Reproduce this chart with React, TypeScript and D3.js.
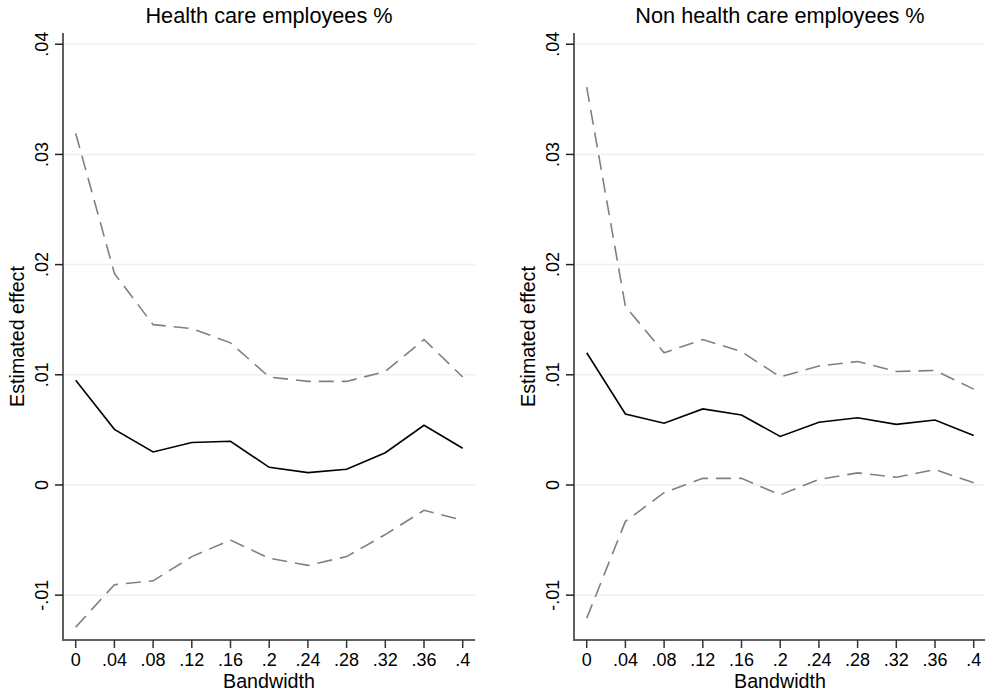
import React from "react";
import * as d3 from "d3";

const bandwidths = [0, 0.04, 0.08, 0.12, 0.16, 0.2, 0.24, 0.28, 0.32, 0.36, 0.4];
const xTickLabels = ["0", ".04", ".08", ".12", ".16", ".2", ".24", ".28", ".32", ".36", ".4"];
const yTicks = [-0.01, 0, 0.01, 0.02, 0.03, 0.04];
const yTickLabels = ["-.01", "0", ".01", ".02", ".03", ".04"];

const hcEstimate = [0.0095, 0.00505, 0.0030, 0.00385, 0.00397, 0.0016, 0.00112, 0.00142, 0.00293, 0.00542, 0.00333];
const hcUpper = [0.0319, 0.0192, 0.01455, 0.0142, 0.0129, 0.0098, 0.0094, 0.0094, 0.0103, 0.0132, 0.0098];
const hcLower = [-0.0129, -0.00905, -0.0087, -0.0065, -0.0050, -0.00665, -0.0073, -0.0065, -0.0045, -0.0023, -0.0032];

const nhcEstimate = [0.0120, 0.00644, 0.0056, 0.0069, 0.00635, 0.0044, 0.0057, 0.0061, 0.0055, 0.0059, 0.0045];
const nhcUpper = [0.0361, 0.0162, 0.0120, 0.0132, 0.0121, 0.0098, 0.0108, 0.0112, 0.0103, 0.0104, 0.0087];
const nhcLower = [-0.0121, -0.0033, -0.0007, 0.0006, 0.0006, -0.0009, 0.0005, 0.0011, 0.0007, 0.0014, 0.0002];

const panels = [
  { title: "Health care employees %", est: hcEstimate, up: hcUpper, lo: hcLower, left: 63 },
  { title: "Non health care employees %", est: nhcEstimate, up: nhcUpper, lo: nhcLower, left: 574 },
];

const W = 985;
const H = 693;
const plotW = 412;
const top = 33;
const bottom = 640;
const font = "Liberation Sans, Arial, Helvetica, sans-serif";

function Panel({ p }: { p: (typeof panels)[number] }) {
  const x = d3.scaleLinear().domain([-0.01313, 0.4127]).range([p.left, p.left + plotW]);
  const y = d3.scaleLinear().domain([-0.01407, 0.04102]).range([bottom, top]);
  const line = d3
    .line<number>()
    .x((_, i) => x(bandwidths[i]))
    .y((d) => y(d));
  const cx = p.left + plotW / 2;
  return (
    <g>
      {yTicks.map((t) => (
        <line key={"g" + t} x1={p.left} x2={p.left + plotW} y1={y(t)} y2={y(t)} stroke="#eaf2f3" strokeWidth={1.5} />
      ))}
      <path d={line(p.up) || ""} fill="none" stroke="#808080" strokeWidth={1.6} strokeDasharray="15 8" />
      <path d={line(p.lo) || ""} fill="none" stroke="#808080" strokeWidth={1.6} strokeDasharray="15 8" />
      <path d={line(p.est) || ""} fill="none" stroke="#000" strokeWidth={1.6} />
      <line x1={p.left} x2={p.left} y1={top} y2={bottom + 1} stroke="#5f5f5f" strokeWidth={2} />
      <line x1={p.left - 1} x2={p.left + plotW} y1={bottom} y2={bottom} stroke="#5f5f5f" strokeWidth={2} />
      {yTicks.map((t, i) => (
        <g key={"yt" + t}>
          <line x1={p.left - 8} x2={p.left} y1={y(t)} y2={y(t)} stroke="#222" strokeWidth={1.5} />
          <text
            transform={`translate(${p.left - 15},${y(t)}) rotate(-90)`}
            textAnchor="middle"
            fontSize={18}
            fontFamily={font}
            fill="#000"
          >
            {yTickLabels[i]}
          </text>
        </g>
      ))}
      {bandwidths.map((b, i) => (
        <g key={"xt" + b}>
          <line x1={x(b)} x2={x(b)} y1={bottom} y2={bottom + 8} stroke="#333" strokeWidth={1.5} />
          <text x={x(b)} y={666} textAnchor="middle" fontSize={18} fontFamily={font} fill="#000">
            {xTickLabels[i]}
          </text>
        </g>
      ))}
      <text x={cx} y={688} textAnchor="middle" fontSize={19.7} fontFamily={font} fill="#000">
        Bandwidth
      </text>
      <text
        transform={`translate(${p.left - 39},${(top + bottom) / 2}) rotate(-90)`}
        textAnchor="middle"
        fontSize={19.7}
        fontFamily={font}
        fill="#000"
      >
        Estimated effect
      </text>
      <text x={cx} y={23} textAnchor="middle" fontSize={21.7} fontFamily={font} fill="#000">
        {p.title}
      </text>
    </g>
  );
}

export default function App() {
  return (
    <svg
      width={W}
      height={H}
      viewBox={`0 0 ${W} ${H}`}
      style={{ position: "absolute", left: 0, top: 0, background: "#fff" }}
    >
      <rect width={W} height={H} fill="#fff" />
      {panels.map((p) => (
        <Panel key={p.title} p={p} />
      ))}
    </svg>
  );
}
